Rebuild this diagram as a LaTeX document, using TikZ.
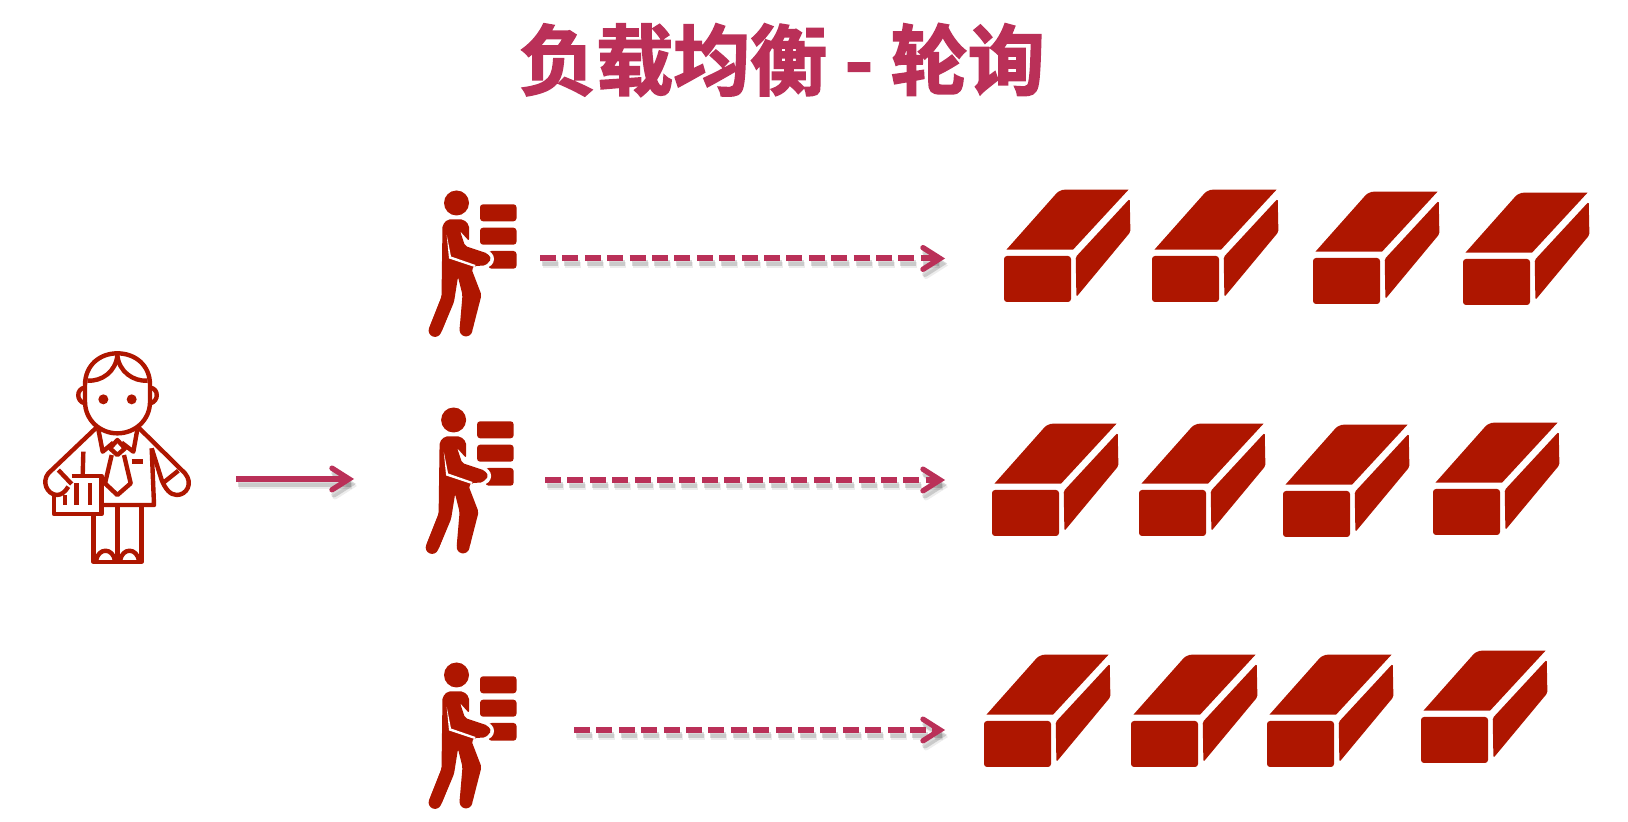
\documentclass[tikz,border=0pt]{standalone}
\usepackage{fontspec}
\newfontfamily\cjk[FakeBold=2.2]{Noto Sans CJK SC Bold}
\usetikzlibrary{arrows.meta}
\definecolor{brickred}{HTML}{AE1600}
\definecolor{rose}{HTML}{BA3058}
\tikzset{
    plainline/.style={line width=3pt},
    dashline/.style={line width=3pt,dash pattern=on 8pt off 3.2pt},
    chevron/.style={line width=2.7pt,line join=miter,line cap=round},
    outline/.style={draw=brickred,line width=2.2pt,line join=round},
    brick/.pic={
        \fill[brickred,rounded corners=1.5pt] (0,0) rectangle (67,46);
        \fill[brickred] (2.4,-6.3) [rounded corners=2.5pt] -- (55.7,-66.3) -- (85,-66.3) [sharp corners] -- (124.5,-66.3) -- (69,-6.3) -- cycle;
        \fill[brickred,rounded corners=.8pt] (71.7,1) -- (125.7,-57.3) -- (126.4,-24) -- (72.4,41) -- cycle;
    },
    worker/.pic={
        \fill[brickred] (0,0) circle (12.5);
        \fill[brickred,rounded corners=1.5pt] (23.5,1.3) rectangle (60,18.3);
        \fill[brickred,rounded corners=1.5pt] (23.5,24.7) rectangle (60,41.7);
        \fill[brickred,rounded corners=1.5pt] (32,48) rectangle (60,65.7);
        \fill[white] (29,56) circle (8.5);
        \fill[brickred,rounded corners=1pt] (-14,22) -- (-9,16.5) -- (7,16.5) -- (12.5,22) -- (12.5,38) -- (3.5,28) -- (8.5,43)
            -- (31,50.5) -- (35,56) -- (29,62.5) -- (18,63) -- (15,66) -- (25,92) -- (16,127) -- (3,127)
            -- (6,92) -- (1.5,74) -- (-2.5,99) -- (-15.5,130) -- (-27.5,125.7) -- (-15,94) -- cycle;
        \draw[brickred,line width=6.4pt,line cap=round] (-9,96) -- (-21.5,127.5) (16,90) -- (9.5,127);
        \fill[white] (-9.8,32) -- (-5.5,53.5) -- (19,62) -- (18,64) -- (-7.5,55.5) -- cycle;
    }
}
% one arrow: #1 line style, #2 and #3 its ends, #4 extra keys
\newcommand{\arrowpass}[4]{
    \draw[#1,#4] (#2) -- ([xshift=-2pt]#3);
    \draw[chevron,#4] ([shift={(-10.5pt,-5.4pt)}]#3) -- ([xshift=-2pt]#3) -- ([shift={(-10.5pt,5.4pt)}]#3);
}
% fake shadow under an arrow
\newcommand{\shadowed}[3]{
    \arrowpass{#1}{#2}{#3}{draw=black,opacity=.07,transform canvas={xshift=1.5pt,yshift=-3.5pt}}
    \arrowpass{#1}{#2}{#3}{draw=black,opacity=.15,transform canvas={xshift=1pt,yshift=-2.5pt}}
    \arrowpass{#1}{#2}{#3}{draw=rose}
}
\begin{document}
\begin{tikzpicture}[x=.5pt,y=-.5pt]
    \useasboundingbox (0,0) rectangle (1628,822);
    \node[text=rose,font=\cjk\fontsize{38.5pt}{41pt}\selectfont,inner sep=0pt] (title) at (782,60) {负载均衡 - 轮询};

    % manager
    \begin{scope}[shift={(30,340)},x=.1667pt,y=-.1667pt]
        \draw[outline] (165,135) .. controls (165,75) and (210,40) .. (262,40) .. controls (315,40) and (360,75) .. (360,135)
            -- (360,185) .. controls (360,240) and (315,280) .. (262,280) .. controls (210,280) and (165,240) .. (165,185) -- cycle;
        \draw[outline] (172,122) .. controls (215,125) and (258,95) .. (262,45) .. controls (266,95) and (310,125) .. (353,122);
        \draw[outline] (165,143) .. controls (138,145) and (138,185) .. (165,190);
        \draw[outline] (360,143) .. controls (387,145) and (387,185) .. (360,190);
        \fill[brickred] (220,178) circle (15) (305,178) circle (15);
        % jacket
        \draw[outline] (200,262) -- (55,400) .. controls (35,425) and (50,462) .. (80,465) .. controls (95,465) and (105,455) .. (115,440);
        \draw[outline] (85,390) -- (125,432);
        \draw[outline] (325,262) -- (465,400) .. controls (490,430) and (470,465) .. (440,465) .. controls (420,465) and (405,445) .. (395,420) -- (365,325);
        \draw[outline] (400,428) -- (445,392);
        \draw[outline] (160,335) -- (158,408);
        \draw[outline] (365,325) -- (372,495) -- (218,495);
        \draw[outline] (125,408) -- (215,408) -- (215,522) -- (72,522) -- (72,465);
        \draw[outline] (105,465) -- (105,495) (140,430) -- (140,495) (180,430) -- (180,495);
        \draw[outline] (190,522) -- (190,665) -- (335,665) -- (335,495) (262,495) -- (262,665);
        \draw[outline] (198,662) .. controls (205,622) and (248,622) .. (255,662);
        \draw[outline] (270,662) .. controls (277,622) and (320,622) .. (327,662);
        % collar and tie
        \draw[outline] (205,268) -- (218,335) -- (250,308) (322,268) -- (310,335) -- (275,308);
        \draw[outline] (262,300) -- (285,325) -- (262,345) -- (240,325) -- cycle;
        \draw[outline] (245,345) -- (225,430) -- (262,465) -- (302,430) -- (282,345);
        \draw[outline] (305,365) -- (338,365);
    \end{scope}

    % workers
    \pic (workerA) at (456.5,203) {worker};
    \pic (workerB) at (453.6,420) {worker};
    \pic (workerC) at (456.5,675) {worker};

    % bricks
    \foreach \bx/\by in {1004/256,1152/256,1313/258,1463/259,
                         992/490,1139/490,1283/491,1433/489,
                         984/721,1131/721,1267/721,1421/717}
        \pic at (\bx,\by) {brick};

    % arrows
    \coordinate (bossright) at (236,479);
    \coordinate (workerin) at (353,479);
    \coordinate (fromA) at (540,258.5);
    \coordinate (toA) at (944,258.5);
    \coordinate (fromB) at (545,480);
    \coordinate (toB) at (944,480);
    \coordinate (fromC) at (574,730);
    \coordinate (toC) at (944,730);
    \shadowed{plainline}{bossright}{workerin}
    \shadowed{dashline}{fromA}{toA}
    \shadowed{dashline}{fromB}{toB}
    \shadowed{dashline}{fromC}{toC}
\end{tikzpicture}
\end{document}
